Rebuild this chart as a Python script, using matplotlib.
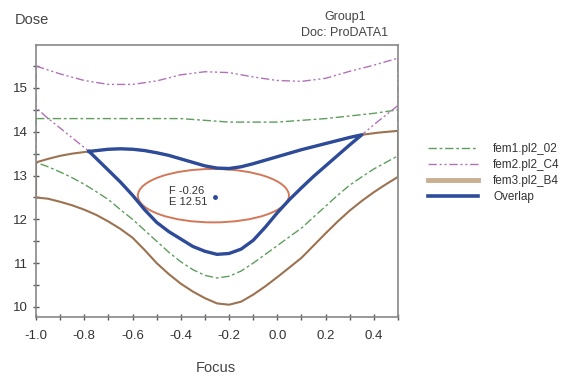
import numpy as np
import matplotlib
matplotlib.use("Agg")
import matplotlib.pyplot as plt
from matplotlib.patches import Ellipse
from matplotlib.lines import Line2D

plt.rcParams['font.family'] = ['Liberation Sans', 'DejaVu Sans']

# fem1.pl2_02 (green)
fem1_up_x = [-1.0, -0.8, -0.6, -0.4, -0.2, 0.0, 0.2, 0.4, 0.5]
fem1_up_y = [14.3, 14.3, 14.3, 14.3, 14.22, 14.22, 14.3, 14.42, 14.5]
fem1_lo_x = [-1.0, -0.95, -0.9, -0.85, -0.8, -0.75, -0.7, -0.65, -0.6, -0.55, -0.5, -0.45, -0.4, -0.35,
             -0.3, -0.25, -0.2, -0.15, -0.1, -0.05, 0.0, 0.05, 0.1, 0.15, 0.2, 0.25, 0.3, 0.35, 0.4, 0.45, 0.5]
fem1_lo_y = [13.3, 13.2, 13.08, 12.95, 12.8, 12.63, 12.45, 12.22, 12.0, 11.75, 11.5, 11.25, 11.03, 10.85,
             10.72, 10.66, 10.7, 10.82, 11.0, 11.2, 11.4, 11.6, 11.8, 12.05, 12.3, 12.55, 12.78, 12.97, 13.15, 13.3, 13.45]

# fem2.pl2_C4 (purple)
fem2_up_x = [-1.0, -0.9, -0.8, -0.7, -0.6, -0.5, -0.4, -0.3, -0.2, -0.1, 0.0, 0.1, 0.2, 0.3, 0.4, 0.5]
fem2_up_y = [15.5, 15.32, 15.17, 15.08, 15.08, 15.16, 15.3, 15.37, 15.35, 15.25, 15.17, 15.15, 15.22, 15.38, 15.52, 15.68]
fem2_lo_x = [-1.0, -0.96, -0.87, -0.78, -0.7, -0.65, -0.6, -0.55, -0.5, -0.45, -0.4, -0.35, -0.3, -0.25,
             -0.2, -0.15, -0.1, -0.05, 0.0, 0.05, 0.1, 0.15, 0.2, 0.25, 0.3, 0.35, 0.42, 0.5]
fem2_lo_y = [14.55, 14.35, 13.95, 13.55, 13.12, 12.85, 12.55, 12.22, 11.93, 11.72, 11.55, 11.38, 11.27, 11.2,
             11.22, 11.32, 11.52, 11.82, 12.15, 12.45, 12.72, 12.98, 13.22, 13.46, 13.7, 13.93, 14.25, 14.6]

# fem3.pl2_B4 (brown)
fem3_up_x = [-1.0, -0.95, -0.9, -0.85, -0.78, -0.7, -0.65, -0.6, -0.55, -0.5, -0.45, -0.4, -0.35, -0.3, -0.25,
             -0.2, -0.15, -0.1, -0.05, 0.0, 0.05, 0.1, 0.15, 0.2, 0.25, 0.3, 0.35, 0.42, 0.5]
fem3_up_y = [13.3, 13.38, 13.45, 13.5, 13.55, 13.6, 13.61, 13.6, 13.57, 13.52, 13.46, 13.38, 13.3, 13.22, 13.17,
             13.16, 13.2, 13.27, 13.35, 13.43, 13.51, 13.59, 13.66, 13.73, 13.8, 13.87, 13.93, 13.98, 14.02]
fem3_lo_x = [-1.0, -0.95, -0.9, -0.85, -0.8, -0.75, -0.7, -0.65, -0.6, -0.55, -0.5, -0.45, -0.4, -0.35, -0.3,
             -0.25, -0.2, -0.15, -0.1, -0.05, 0.0, 0.05, 0.1, 0.15, 0.2, 0.25, 0.3, 0.35, 0.4, 0.45, 0.5]
fem3_lo_y = [12.5, 12.47, 12.4, 12.32, 12.22, 12.1, 11.95, 11.78, 11.58, 11.3, 11.0, 10.75, 10.53, 10.35, 10.2,
             10.08, 10.05, 10.12, 10.28, 10.47, 10.68, 10.9, 11.12, 11.4, 11.68, 11.95, 12.2, 12.42, 12.62, 12.8, 12.97]

# overlap is bounded by fem3 upper and fem2 lower between the crossings
cross_left, cross_right = -0.78, 0.35

# process window optimum
opt_focus, opt_dose = -0.26, 12.51
ell_w, ell_h = 0.626, 1.22

def closed(ux, uy, lx, ly):
    xs = list(ux) + list(lx)[::-1] + [ux[0]]
    ys = list(uy) + list(ly)[::-1] + [uy[0]]
    return xs, ys

green = "#5e9e5e"
purple = "#b272b8"
brown = "#9c7250"
tan = "#c9ae92"
blue = "#2d4b98"
red = "#d27858"
txt = "#444444"

fig = plt.figure(figsize=(5.78, 3.77), dpi=100)
ax = fig.add_axes([0.0623, 0.1592, 0.6263, 0.7214])

x, y = closed(fem1_up_x, fem1_up_y, fem1_lo_x, fem1_lo_y)
ax.plot(x, y, color=green, lw=1.0, dashes=(6, 2, 2, 2))
x, y = closed(fem2_up_x, fem2_up_y, fem2_lo_x, fem2_lo_y)
ax.plot(x, y, color=purple, lw=1.0, dashes=(6, 2, 1.5, 2, 1.5, 2))
x, y = closed(fem3_up_x, fem3_up_y, fem3_lo_x, fem3_lo_y)
ax.plot(x, y, color=brown, lw=1.5)

i0, i1 = fem3_up_x.index(cross_left), fem3_up_x.index(cross_right)
j0, j1 = fem2_lo_x.index(cross_left), fem2_lo_x.index(cross_right)
ov_x = fem3_up_x[i0:i1 + 1] + fem2_lo_x[j0:j1 + 1][::-1]
ov_y = fem3_up_y[i0:i1 + 1] + fem2_lo_y[j0:j1 + 1][::-1]
ax.plot(ov_x + [ov_x[0]], ov_y + [ov_y[0]], color=blue, lw=2.4, solid_joinstyle='round')

ax.add_patch(Ellipse((opt_focus - 0.005, opt_dose + 0.03), ell_w, ell_h,
                     fill=False, edgecolor=red, lw=1.4))
ax.plot([opt_focus], [opt_dose], 'o', color=blue, ms=2.5)
ax.text(-0.45, 12.52, "F -0.26\nE 12.51", fontsize=8, color="#333333",
        ha='left', va='center', linespacing=1.2)

ax.set_xlim(-1.0, 0.5)
ax.set_ylim(9.77, 15.98)
ax.set_xticks(np.arange(-1.0, 0.51, 0.2))
ax.set_xticks(np.arange(-1.0, 0.51, 0.1), minor=True)
ax.set_xticklabels(["-1.0", "-0.8", "-0.6", "-0.4", "-0.2", "0.0", "0.2", "0.4"])
ax.set_yticks([10, 11, 12, 13, 14, 15])
ax.set_yticks(np.arange(10, 16.0, 0.5), minor=True)
ax.tick_params(which='both', direction='inout', length=5, width=1, colors="#555555",
               labelsize=9.5, labelcolor="#333333")
ax.tick_params(axis='x', which='major', pad=7)
for s in ax.spines.values():
    s.set_color("#888888")
    s.set_linewidth(1.2)

fig.text(15 / 578, 1 - 20 / 377, "Dose", fontsize=10.5, color=txt, va='center', ha='left')
fig.text(345 / 578, 1 - 17 / 377, "Group1", fontsize=9, color=txt, va='center', ha='center')
fig.text(345 / 578, 1 - 33 / 377, "Doc: ProDATA1", fontsize=9, color=txt, va='center', ha='center')
fig.text(216 / 578, 1 - 368 / 377, "Focus", fontsize=10.5, color=txt, va='center', ha='center')

handles = [Line2D([], [], color=green, lw=1.0, dashes=(6, 2, 2, 2)),
           Line2D([], [], color=purple, lw=1.0, dashes=(6, 2, 1.5, 2, 1.5, 2)),
           Line2D([], [], color=tan, lw=3.5),
           Line2D([], [], color=blue, lw=2.6)]
labels = ["fem1.pl2_02", "fem2.pl2_C4", "fem3.pl2_B4", "Overlap"]
fig.legend(handles, labels, loc='upper left', bbox_to_anchor=(428 / 578, 1 - 143 / 377),
           frameon=False, fontsize=8.5, handlelength=4.24, handletextpad=1.27,
           labelspacing=0.35, borderpad=0, borderaxespad=0, labelcolor="#333333")

fig.savefig("out.png", dpi=100)
